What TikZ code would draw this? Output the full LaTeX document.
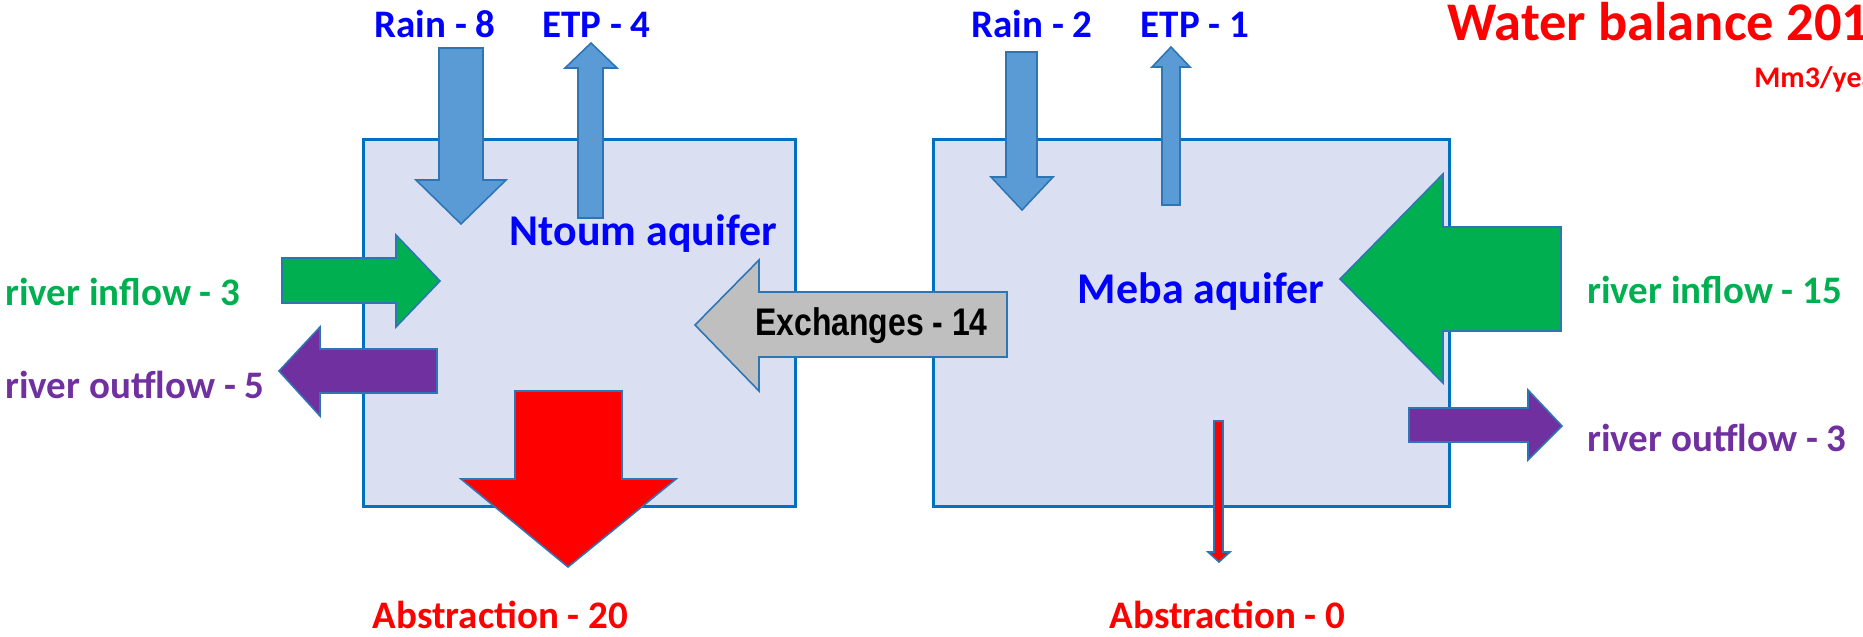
\documentclass[tikz,border=0pt]{standalone}
\usepackage{fontspec}
\setmainfont{Carlito}
\newfontfamily\exchfont{Liberation Sans}
\usetikzlibrary{positioning}
\definecolor{aqfill}{RGB}{218,224,242}
\definecolor{aqline}{RGB}{0,112,192}
\definecolor{rainblue}{RGB}{91,155,213}
\definecolor{flowline}{RGB}{46,117,182}
\definecolor{inflowgreen}{RGB}{0,176,80}
\definecolor{outflowpurple}{RGB}{112,48,160}
\definecolor{exchgrey}{RGB}{191,191,191}
\definecolor{txtblue}{RGB}{0,0,255}
\definecolor{txtred}{RGB}{255,0,0}

\begin{document}
\begin{tikzpicture}[x=0.02cm,y=-0.02cm,
    aquifer/.style={draw=aqline,fill=aqfill,line width=1.7pt,inner sep=0pt},
    flow/.style={draw=flowline,line width=0.9pt,line join=miter},
    lbl/.style={font=\fontsize{22.2}{26}\selectfont\bfseries,inner sep=0pt},
    aqlbl/.style={font=\fontsize{25}{29}\selectfont\bfseries,inner sep=0pt,
      text=txtblue,anchor=base}]
        \useasboundingbox (0,0) rectangle (1863,636);
        \clip (0,0) rectangle (1863,636);
        %% Aquifers
        \node[aquifer,minimum width=8.66cm,minimum height=7.36cm]
          (ntoum) at (579.5,323) {};
        \node[aquifer,minimum width=10.34cm,minimum height=7.36cm]
          (meba) at (1191.5,323) {};
        %% Ntoum fluxes
        \draw[flow,fill=rainblue] (439,48) -- (483,48) -- (483,180)
          -- (506,180) -- (461,224) -- (416,180) -- (439,180) -- cycle;
        \draw[flow,fill=rainblue] (578,218) -- (578,68) -- (565,68)
          -- (591,43) -- (617,68) -- (603,68) -- (603,218) -- cycle;
        \draw[flow,fill=inflowgreen] (282,258) -- (396,258) -- (396,235)
          -- (440,281) -- (396,327) -- (396,303) -- (282,303) -- cycle;
        \draw[flow,fill=outflowpurple] (437,349) -- (320,349) -- (320,327)
          -- (279,371) -- (320,416) -- (320,393) -- (437,393) -- cycle;
        \draw[flow,fill=txtred] (515,391) -- (622,391) -- (622,479)
          -- (676,479) -- (568,567) -- (461,479) -- (515,479) -- cycle;
        %% Exchanges
        \draw[flow,fill=exchgrey] (1007,292) -- (759,292) -- (759,260)
          -- (695,325) -- (759,391) -- (759,357) -- (1007,357) -- cycle;
        %% Meba fluxes
        \draw[flow,fill=rainblue] (1006,52) -- (1037,52) -- (1037,177)
          -- (1053,177) -- (1022,210) -- (991,177) -- (1006,177) -- cycle;
        \draw[flow,fill=rainblue] (1162,205) -- (1162,67) -- (1152,67)
          -- (1171,47) -- (1190,67) -- (1180,67) -- (1180,205) -- cycle;
        \draw[flow,fill=inflowgreen] (1561,227) -- (1443,227) -- (1443,174)
          -- (1340,279) -- (1443,383) -- (1443,331) -- (1561,331) -- cycle;
        \draw[flow,fill=outflowpurple] (1409,408) -- (1528,408) -- (1528,390)
          -- (1562,426) -- (1528,460) -- (1528,442) -- (1409,442) -- cycle;
        \draw[flow,fill=txtred] (1214,421) -- (1223,421) -- (1223,552)
          -- (1230,552) -- (1219,562) -- (1208,552) -- (1214,552) -- cycle;
        %% Labels
        \node[lbl,text=txtblue,anchor=base] (rain8) at (435,37) {Rain - 8};
        \node[lbl,text=txtblue,anchor=base] (etp4) at (596.5,37) {ETP - 4};
        \node[lbl,text=txtblue,anchor=base] (rain2) at (1032,37) {Rain - 2};
        \node[lbl,text=txtblue,anchor=base] (etp1) at (1195,37) {ETP - 1};
        \node[aqlbl] (ntoumlbl) at (643.5,245) {Ntoum aquifer};
        \node[aqlbl] (mebalbl) at (1201,303) {Meba aquifer};
        \node[inner sep=0pt,anchor=base] (exchlbl) at (871.5,335)
          {\scalebox{0.83}[1]{\exchfont\fontsize{21.9}{26}\selectfont
            \bfseries Exchanges - 14}};
        \node[lbl,text=inflowgreen,anchor=base west] (in3) at (5,305)
          {river inflow - 3};
        \node[lbl,text=outflowpurple,anchor=base west] (out5) at (5,398)
          {river outflow - 5};
        \node[lbl,text=inflowgreen,anchor=base west] (in15) at (1587,303)
          {river inflow - 15};
        \node[lbl,text=outflowpurple,anchor=base west] (out3) at (1587,451)
          {river outflow - 3};
        \node[lbl,text=txtred,anchor=base] (abs20) at (500.5,628)
          {Abstraction - 20};
        \node[lbl,text=txtred,anchor=base] (abs0) at (1227.5,628)
          {Abstraction - 0};
        %% Title
        \node[lbl,font=\fontsize{31}{36}\selectfont\bfseries,text=txtred,
          anchor=base west] (title) at (1447,40) {Water balance 2019};
        \node[lbl,font=\fontsize{17}{20}\selectfont\bfseries,text=txtred,
          anchor=base west] (unit) at (1754,87) {Mm3/year};
      \end{tikzpicture}
\end{document}
